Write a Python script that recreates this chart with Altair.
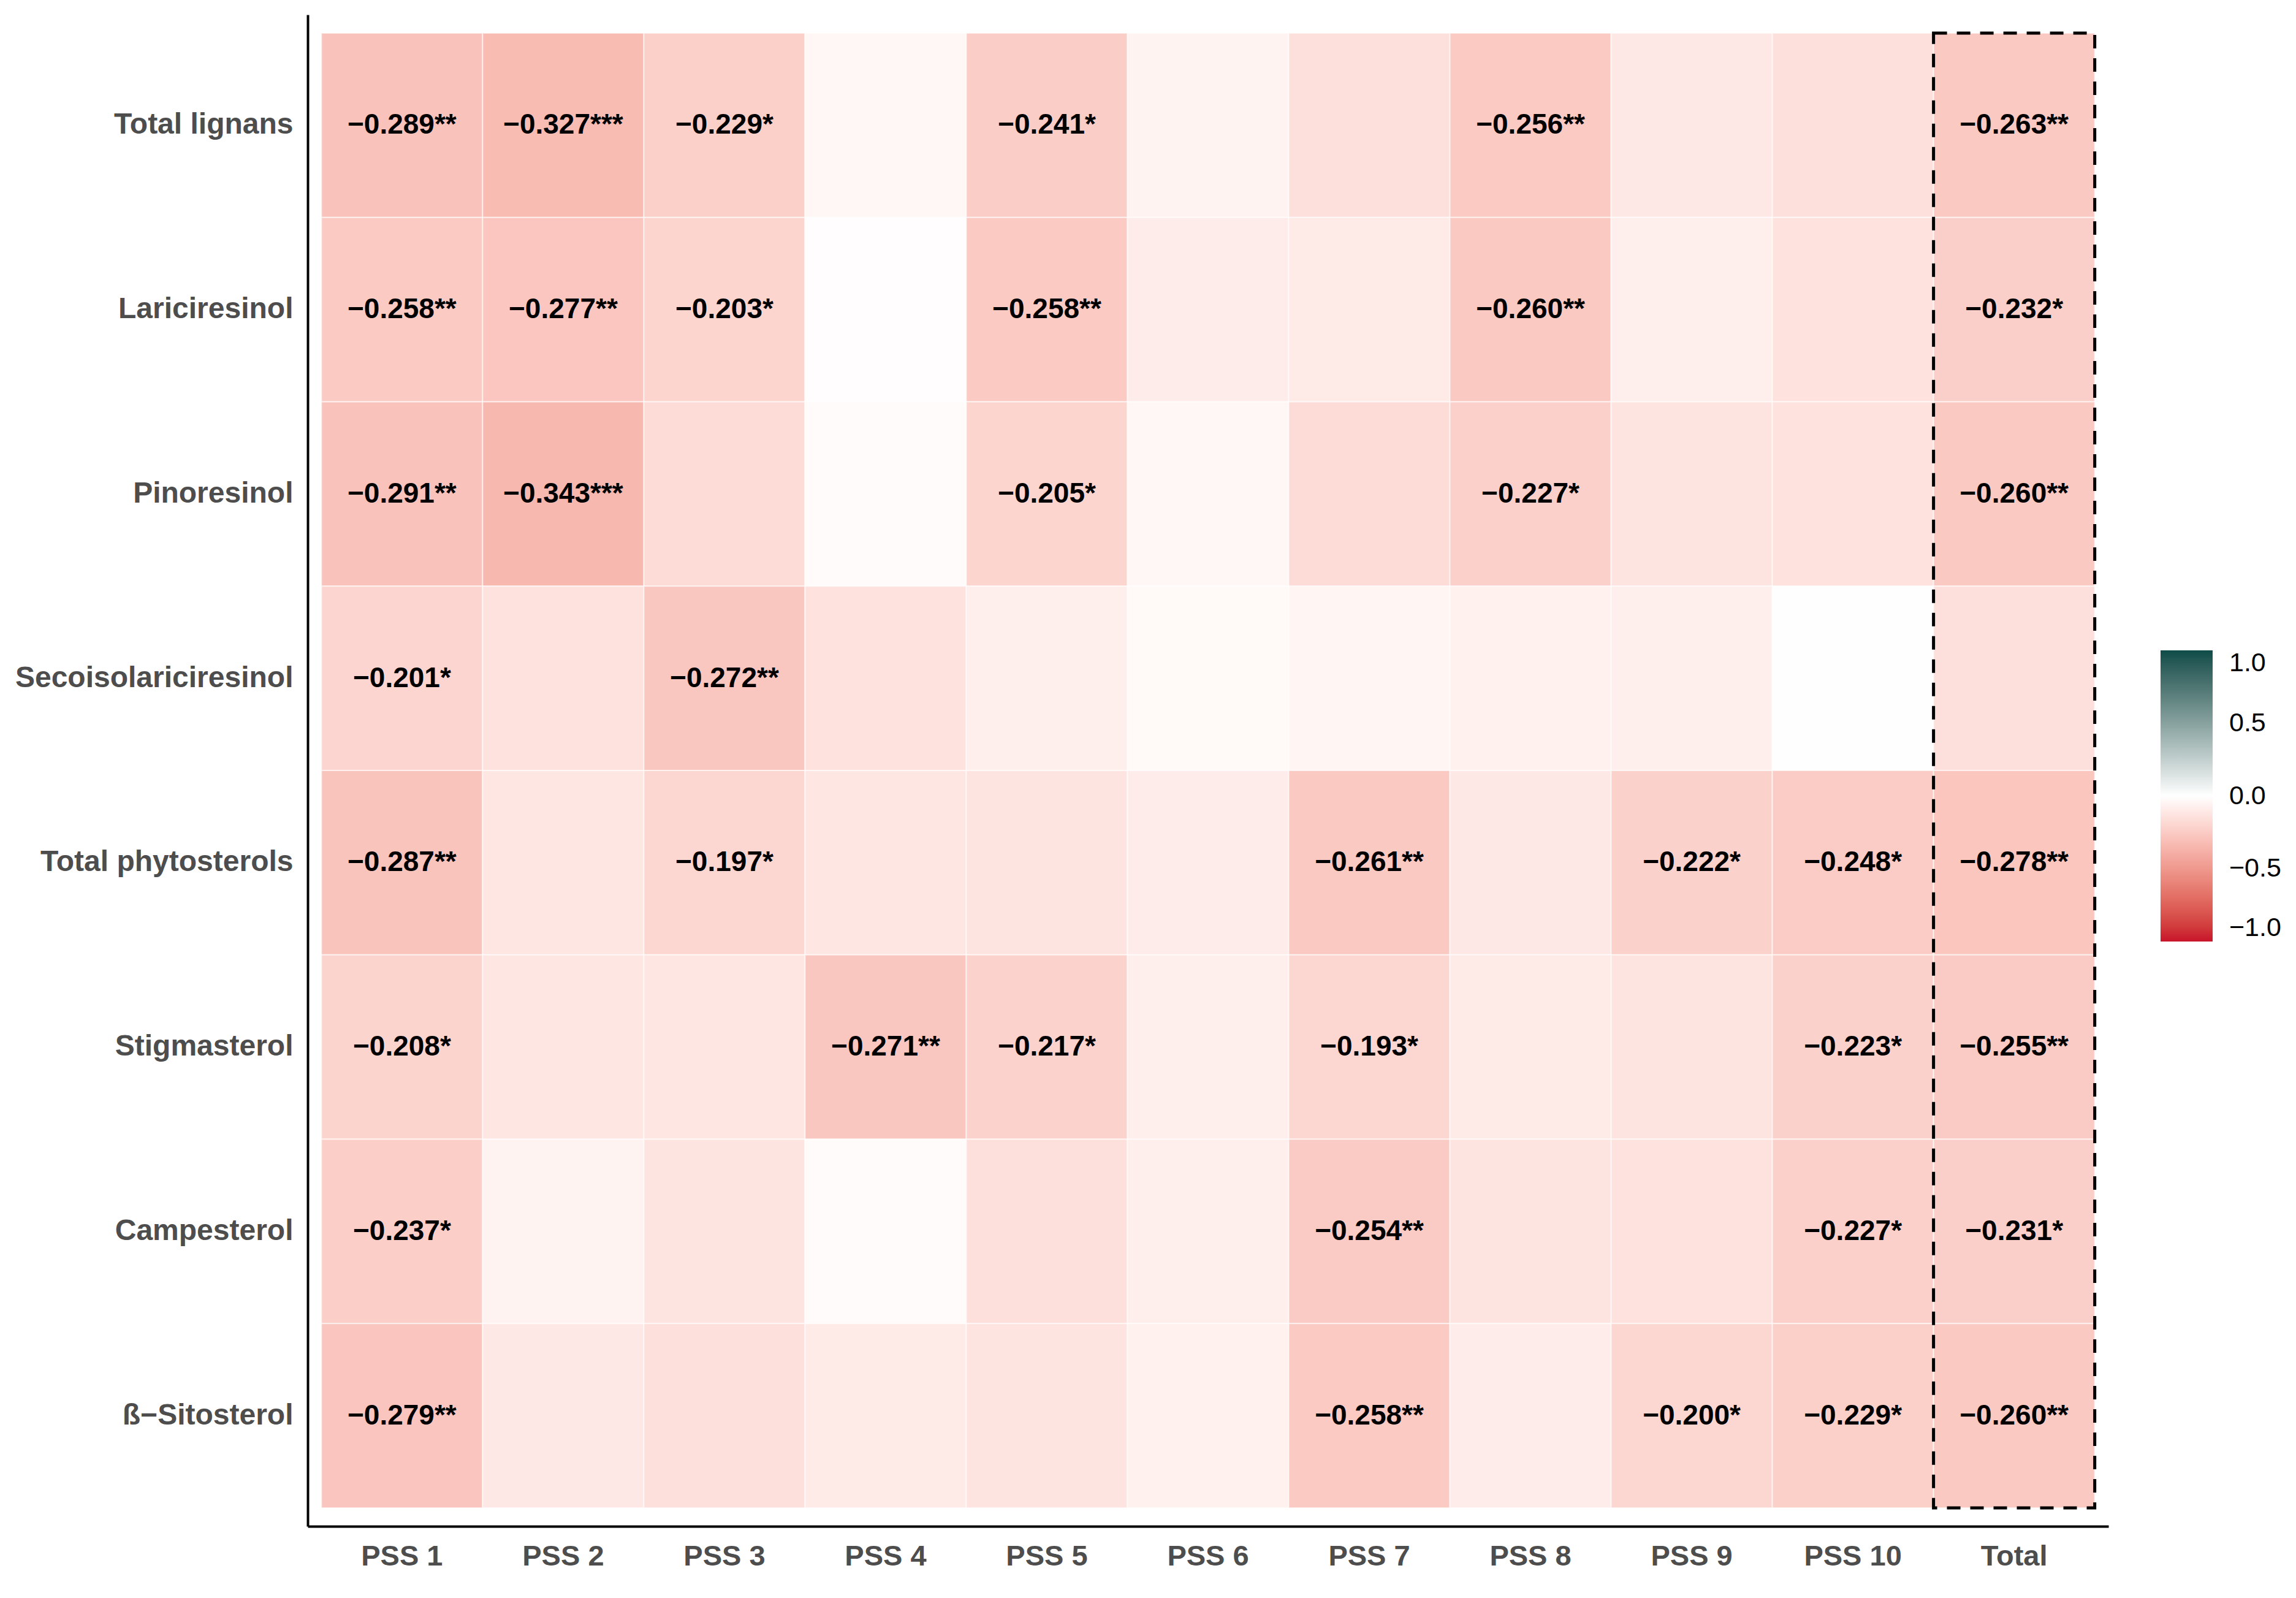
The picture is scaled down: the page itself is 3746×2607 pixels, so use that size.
import altair as alt
import pandas as pd

FONT = "Liberation Sans, Arial, sans-serif"

rows = ["Total lignans", "Lariciresinol", "Pinoresinol", "Secoisolariciresinol",
        "Total phytosterols", "Stigmasterol", "Campesterol", "ß−Sitosterol"]
cols = ["PSS 1", "PSS 2", "PSS 3", "PSS 4", "PSS 5", "PSS 6", "PSS 7",
        "PSS 8", "PSS 9", "PSS 10", "Total"]

# correlation coefficients, one list per row (columns in the order of `cols`)
r_total_lignans = [-0.289, -0.327, -0.229, -0.04, -0.241, -0.06, -0.15, -0.256, -0.11, -0.15, -0.263]
r_lariciresinol = [-0.258, -0.277, -0.203, -0.01, -0.258, -0.09, -0.10, -0.260, -0.08, -0.14, -0.232]
r_pinoresinol = [-0.291, -0.343, -0.17, -0.02, -0.205, -0.04, -0.17, -0.227, -0.13, -0.14, -0.260]
r_secoiso = [-0.201, -0.14, -0.272, -0.14, -0.08, -0.03, -0.05, -0.07, -0.08, -0.005, -0.15]
r_total_phyto = [-0.287, -0.12, -0.197, -0.12, -0.13, -0.09, -0.261, -0.11, -0.222, -0.248, -0.278]
r_stigmasterol = [-0.208, -0.12, -0.12, -0.271, -0.217, -0.08, -0.193, -0.10, -0.13, -0.223, -0.255]
r_campesterol = [-0.237, -0.06, -0.13, -0.02, -0.15, -0.08, -0.254, -0.13, -0.14, -0.227, -0.231]
r_sitosterol = [-0.279, -0.11, -0.15, -0.10, -0.13, -0.07, -0.258, -0.09, -0.200, -0.229, -0.260]

# significance stars
s_total_lignans = ["**", "***", "*", "", "*", "", "", "**", "", "", "**"]
s_lariciresinol = ["**", "**", "*", "", "**", "", "", "**", "", "", "*"]
s_pinoresinol = ["**", "***", "", "", "*", "", "", "*", "", "", "**"]
s_secoiso = ["*", "", "**", "", "", "", "", "", "", "", ""]
s_total_phyto = ["**", "", "*", "", "", "", "**", "", "*", "*", "**"]
s_stigmasterol = ["*", "", "", "**", "*", "", "*", "", "", "*", "**"]
s_campesterol = ["*", "", "", "", "", "", "**", "", "", "*", "*"]
s_sitosterol = ["**", "", "", "", "", "", "**", "", "*", "*", "**"]

values = [r_total_lignans, r_lariciresinol, r_pinoresinol, r_secoiso,
          r_total_phyto, r_stigmasterol, r_campesterol, r_sitosterol]
stars = [s_total_lignans, s_lariciresinol, s_pinoresinol, s_secoiso,
         s_total_phyto, s_stigmasterol, s_campesterol, s_sitosterol]

recs = []
for ri, rname in enumerate(rows):
    for ci, cname in enumerate(cols):
        v = values[ri][ci]
        s = stars[ri][ci]
        lab = ("\u2212" if v < 0 else "") + f"{abs(v):.3f}" + s if s else ""
        recs.append({"row": rname, "col": cname, "r": v, "label": lab})
df = pd.DataFrame(recs)

xscale = alt.Scale(domain=cols, paddingOuter=0.085, paddingInner=0)
yscale = alt.Scale(domain=rows, paddingOuter=0.1, paddingInner=0)

axis_common = dict(title=None, ticks=False, grid=False, labelFont=FONT,
                   labelFontWeight="bold", labelColor="#4D4D4D", labelLimit=1000,
                   domainColor="black", domainWidth=4)

x_enc = alt.X("col:N", scale=xscale,
              axis=alt.Axis(labelAngle=0, labelPadding=26, labelFontSize=47, **axis_common))
y_enc = alt.Y("row:N", scale=yscale,
              axis=alt.Axis(labelPadding=24, labelFontSize=48, **axis_common))

base = alt.Chart(df)

tiles = base.mark_rect(stroke="white", strokeWidth=2, strokeOpacity=0.6).encode(
    x=x_enc,
    y=y_enc,
    color=alt.Color(
        "r:Q",
        scale=alt.Scale(domain=[-1, 0, 1], range=["#C8142A", "#FFFFFF", "#0F4C49"], interpolate="lab"),
        legend=alt.Legend(
            title=None, orient="none", legendX=3023, legendY=1037, direction="vertical",
            gradientLength=475, gradientThickness=85, gradientStrokeWidth=0,
            values=[-1, -0.5, 0, 0.5, 1], format=".1f",
            labelFont=FONT, labelFontSize=43, labelColor="black", labelOffset=27,
        ),
    ),
)

text = base.mark_text(font=FONT, fontSize=46, fontWeight="bold", color="black").encode(
    x=alt.X("col:N", scale=xscale),
    y=alt.Y("row:N", scale=yscale),
    text="label:N",
)

box = alt.Chart(pd.DataFrame({"col": [cols[-1]]})).mark_rect(
    fillOpacity=0, stroke="black", strokeWidth=5, strokeDash=[22, 16]
).encode(
    x=alt.XDatum(datum=cols[-1], type="nominal", bandPosition=0, scale=xscale),
    x2=alt.X2Datum(datum=cols[-1], bandPosition=1),
    y=alt.YDatum(datum=rows[0], type="nominal", bandPosition=0, scale=yscale),
    y2=alt.Y2Datum(datum=rows[-1], bandPosition=1),
)

chart = alt.layer(tiles, text, box).properties(
    width=2938, height=2466,
    padding={"left": 494, "top": 16, "right": 290, "bottom": 100},
    autosize=alt.AutoSizeParams(type="none"),
    background="white",
).configure_view(stroke=None)

chart.save("out.html", embed_options={"renderer": "svg", "actions": False})
